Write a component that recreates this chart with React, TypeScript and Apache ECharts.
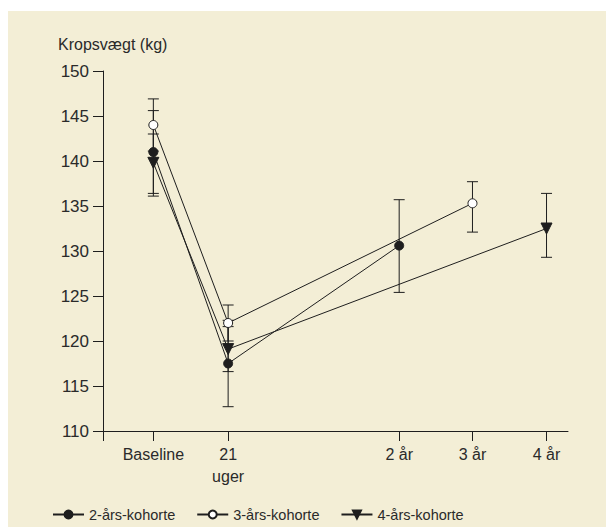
import React, { useEffect, useRef } from "react";
import * as echarts from "echarts";

const categories = ["Baseline", "21\nuger", "2 år", "3 år", "4 år"];
const categoryX = [0, 1.01, 3.32, 4.31, 5.31];
const yTicks = { min: 110, max: 150, interval: 5 };

const seriesNames = ["2-års-kohorte", "3-års-kohorte", "4-års-kohorte"];
// indices into categories
const cohort2Idx = [0, 1, 2];
const cohort2Mean = [141.0, 117.5, 130.6];
const cohort2Low = [136.4, 112.7, 125.4];
const cohort2High = [145.6, 122.3, 135.7];

const cohort3Idx = [0, 1, 3];
const cohort3Mean = [144.0, 122.0, 135.3];
const cohort3Low = [141.1, 120.0, 132.1];
const cohort3High = [146.9, 124.0, 137.7];

const cohort4Idx = [0, 1, 4];
const cohort4Mean = [139.8, 119.1, 132.5];
const cohort4Low = [136.1, 116.6, 129.3];
const cohort4High = [143.0, 121.6, 136.4];

const INK = "#1e1e1e";
const TEXT = "#2a2a2a";
const FONT = "'Liberation Sans', Arial, sans-serif";

export default function App() {
  const ref = useRef<HTMLDivElement>(null);
  useEffect(() => {
    if (!ref.current) return;
    const chart = echarts.init(ref.current, null, { renderer: "svg" });
    const xMin = -0.68;
    const xMax = 5.6;

    const pts = (idx: number[], vals: number[]) => idx.map((c, i) => [categoryX[c], vals[i]]);
    const errs = (idx: number[], lo: number[], hi: number[]) =>
      idx.map((c, i) => [categoryX[c], lo[i], hi[i]]);

    const errorData = [
      ...errs(cohort2Idx, cohort2Low, cohort2High),
      ...errs(cohort3Idx, cohort3Low, cohort3High),
      ...errs(cohort4Idx, cohort4Low, cohort4High),
    ];

    const lineBase = {
      type: "line",
      symbolSize: 9,
      lineStyle: { color: INK, width: 1 },
      z: 3,
    };

    chart.setOption({
      animation: false,
      backgroundColor: "#ffffff",
      textStyle: { fontFamily: FONT },
      graphic: [
        {
          type: "rect",
          shape: { x: 8, y: 11, width: 598, height: 516 },
          style: { fill: "#f3eed6" },
          z: -10,
          silent: true,
        },
        {
          type: "text",
          left: 58,
          top: 36,
          style: { text: "Kropsvægt (kg)", fill: TEXT, font: `16px ${FONT}` },
        },
      ],
      grid: { left: 103, right: 38, top: 71, bottom: 101, containLabel: false },
      xAxis: {
        type: "value",
        min: xMin,
        max: xMax,
        splitLine: { show: false },
        axisLine: { show: true, onZero: false, lineStyle: { color: INK, width: 1 } },
        axisTick: {
          show: true,
          length: 10,
          lineStyle: { color: INK, width: 1 },
          customValues: [xMin, ...categoryX],
        },
        axisLabel: {
          customValues: categoryX,
          formatter: (v: number) => {
            const i = categoryX.findIndex((c) => Math.abs(c - v) < 1e-6);
            return i >= 0 ? categories[i] : "";
          },
          color: TEXT,
          fontSize: 16,
          lineHeight: 22,
          margin: 12,
          fontFamily: FONT,
        },
      },
      yAxis: {
        type: "value",
        min: yTicks.min,
        max: yTicks.max,
        interval: yTicks.interval,
        splitLine: { show: false },
        axisLine: { show: true, onZero: false, lineStyle: { color: INK, width: 1 } },
        axisTick: { show: true, length: 10, lineStyle: { color: INK, width: 1 } },
        axisLabel: { color: TEXT, fontSize: 17, margin: 14, fontFamily: FONT },
      },
      legend: {
        left: 47,
        top: 502,
        padding: 5,
        itemWidth: 31,
        itemHeight: 10,
        itemGap: 21,
        textStyle: { color: TEXT, fontSize: 14.5, fontFamily: FONT },
        data: seriesNames,
      },
      series: [
        {
          type: "custom",
          name: "err",
          z: 1,
          silent: true,
          encode: { x: 0, y: [1, 2] },
          data: errorData,
          renderItem: (params: any, api: any) => {
            const x = api.value(0);
            const lo = api.coord([x, api.value(1)]);
            const hi = api.coord([x, api.value(2)]);
            const hw = 5.5;
            const st = { stroke: INK, lineWidth: 1 };
            return {
              type: "group",
              children: [
                { type: "line", shape: { x1: lo[0], y1: lo[1], x2: hi[0], y2: hi[1] }, style: st },
                { type: "line", shape: { x1: lo[0] - hw, y1: lo[1], x2: lo[0] + hw, y2: lo[1] }, style: st },
                { type: "line", shape: { x1: hi[0] - hw, y1: hi[1], x2: hi[0] + hw, y2: hi[1] }, style: st },
              ],
            };
          },
        },
        {
          ...lineBase,
          name: seriesNames[0],
          symbol: "circle",
          itemStyle: { color: INK, borderColor: INK, borderWidth: 1 },
          data: pts(cohort2Idx, cohort2Mean),
        },
        {
          ...lineBase,
          name: seriesNames[1],
          symbol: "circle",
          itemStyle: { color: "#ffffff", borderColor: INK, borderWidth: 1 },
          data: pts(cohort3Idx, cohort3Mean),
        },
        {
          ...lineBase,
          name: seriesNames[2],
          symbol: "triangle",
          symbolRotate: 180,
          symbolSize: 11,
          itemStyle: { color: INK, borderColor: INK, borderWidth: 1 },
          data: pts(cohort4Idx, cohort4Mean),
        },
      ],
    });
    return () => chart.dispose();
  }, []);
  return (
    <div
      ref={ref}
      style={{ position: "absolute", left: 0, top: 0, width: 606, height: 532 }}
    />
  );
}
